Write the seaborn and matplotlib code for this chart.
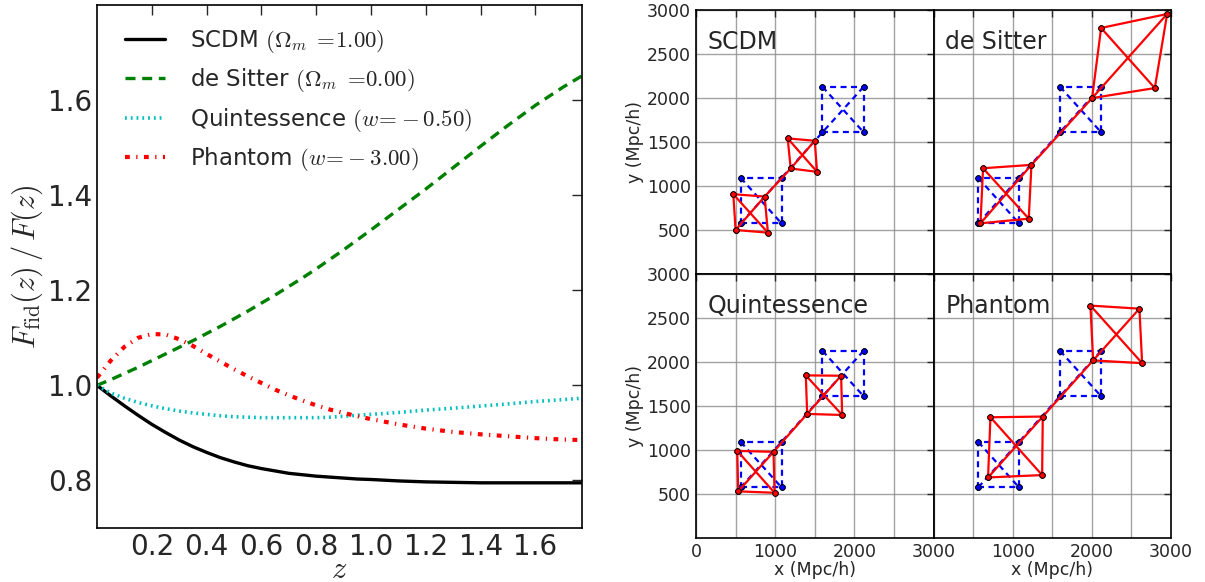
import matplotlib
matplotlib.use("Agg")
import matplotlib.pyplot as plt
from matplotlib.ticker import MultipleLocator
import numpy as np
import seaborn as sns

# ---- left panel: F_fid(z)/F(z) ----
z = [0.0, 0.05, 0.1, 0.15, 0.2, 0.25, 0.3, 0.35, 0.4, 0.45, 0.5, 0.55, 0.6, 0.65,
     0.7, 0.75, 0.8, 0.85, 0.9, 0.95, 1.0, 1.1, 1.2, 1.3, 1.4, 1.5, 1.6, 1.7, 1.77]
scdm = [1.000, 0.978, 0.957, 0.937, 0.918, 0.901, 0.885, 0.871, 0.859, 0.848,
        0.839, 0.831, 0.825, 0.820, 0.815, 0.812, 0.809, 0.807, 0.805, 0.803,
        0.802, 0.799, 0.797, 0.796, 0.795, 0.795, 0.795, 0.795, 0.795]
desitter = [1.000, 1.012, 1.025, 1.038, 1.052, 1.066, 1.080, 1.094, 1.109, 1.124,
            1.140, 1.156, 1.173, 1.190, 1.208, 1.226, 1.245, 1.265, 1.285, 1.306,
            1.327, 1.370, 1.413, 1.458, 1.503, 1.547, 1.589, 1.627, 1.651]
quint = [1.000, 0.984, 0.973, 0.964, 0.957, 0.951, 0.946, 0.942, 0.939, 0.936,
         0.934, 0.933, 0.932, 0.932, 0.932, 0.932, 0.932, 0.933, 0.935, 0.937,
         0.939, 0.943, 0.948, 0.952, 0.9565, 0.961, 0.966, 0.970, 0.973]
phantom = [1.016, 1.052, 1.081, 1.100, 1.108, 1.107, 1.097, 1.083, 1.066, 1.050,
           1.034, 1.019, 1.005, 0.991, 0.979, 0.968, 0.958, 0.949, 0.942, 0.935,
           0.929, 0.918, 0.909, 0.902, 0.897, 0.893, 0.889, 0.886, 0.885]

model_labels = [
    r"SCDM $(\Omega_m\;=\!1.00)$",
    r"de Sitter $(\Omega_m\;=\!0.00)$",
    r"Quintessence $(w\!=\!-0.50)$",
    r"Phantom $(w\!=\!-3.00)$",
]

# ---- right panels: corners (BL, BR, TR, TL) of two comoving squares, Mpc/h ----
fid_x = [565, 1080, 1080, 565, 1597, 2118, 2118, 1597]
fid_y = [575, 575, 1092, 1092, 1610, 1610, 2128, 2128]

panel_names = ["SCDM", "de Sitter", "Quintessence", "Phantom"]
scdm_x = [500, 908, 867, 471, 1196, 1529, 1500, 1158]
scdm_y = [500, 470, 880, 907, 1199, 1161, 1514, 1541]
desitter_x = [593, 1203, 1237, 626, 2003, 2795, 2951, 2117]
desitter_y = [576, 629, 1240, 1202, 1999, 2113, 2955, 2796]
quint_x = [533, 992, 979, 521, 1404, 1846, 1833, 1387]
quint_y = [530, 514, 979, 990, 1410, 1398, 1844, 1848]
phantom_x = [689, 1372, 1380, 719, 2016, 2635, 2601, 1982]
phantom_y = [688, 715, 1380, 1372, 2018, 1987, 2606, 2641]

# index paths: square outline, one diagonal, and the line-of-sight chain
paths = [[0, 1, 2, 3, 0], [3, 1], [4, 5, 6, 7, 4], [7, 5], [0, 2, 4, 6]]


def draw_shapes(ax, xs, ys, color, ls, lw):
    xs = np.asarray(xs)
    ys = np.asarray(ys)
    for p in paths:
        sns.lineplot(x=xs[p], y=ys[p], sort=False, estimator=None, ax=ax,
                     color=color, linestyle=ls, lw=lw, marker="o", ms=4,
                     mec="k", mew=0.6)


plt.rcParams.update({
    "xtick.direction": "in",
    "ytick.direction": "in",
    "xtick.top": True,
    "ytick.right": True,
    "mathtext.fontset": "cm",
})
sns.set_style("white", {"xtick.direction": "in", "ytick.direction": "in",
                        "axes.edgecolor": "black"})
plt.rcParams["font.family"] = ["DejaVu Sans"]

fig = plt.figure(figsize=(12.05, 5.82), dpi=100)

# left panel
ax = fig.add_axes([0.0805, 0.0928, 0.4025, 0.8986])
styles = [
    ("black", "-", 2.4),
    ("green", (0, (3, 2)), 2.4),
    ("c", (0, (0.5, 1.1)), 2.6),
    ("red", (0, (1.15, 1.55, 0.3, 1.55)), 3.0),
]
for vals, lab, (col, ls, lw) in zip([scdm, desitter, quint, phantom], model_labels, styles):
    sns.lineplot(x=z, y=vals, ax=ax, color=col, linestyle=ls, lw=lw, label=lab)
ax.set_xlim(0, 1.77)
ax.set_ylim(0.7, 1.8)
ax.set_xticks([0.2, 0.4, 0.6, 0.8, 1.0, 1.2, 1.4, 1.6])
ax.set_yticks([0.8, 1.0, 1.2, 1.4, 1.6])
ax.tick_params(labelsize=20, length=7, width=1, top=True, right=True, direction="in")
ax.set_xlabel(r"$z$", fontsize=22, labelpad=-4)
ax.set_ylabel(r"$F_{\rm fid}(z)\,/\,F(z)$", fontsize=22, labelpad=2)
ax.legend(loc="upper left", bbox_to_anchor=(0, 1.0096), frameon=False,
          fontsize=16.5, handlelength=1.75, handletextpad=1.1,
          labelspacing=0.5, borderaxespad=0.82)
for s in ax.spines.values():
    s.set_linewidth(1.2)

# right 2x2 panels
left, right, top, bottom = 0.5776, 0.9718, 0.9828, 0.0756
w = (right - left) / 2
h = (top - bottom) / 2
model_xy = [(scdm_x, scdm_y), (desitter_x, desitter_y), (quint_x, quint_y), (phantom_x, phantom_y)]
for i, (name, (mx, my)) in enumerate(zip(panel_names, model_xy)):
    r, c = divmod(i, 2)
    pax = fig.add_axes([left + c * w, bottom + (1 - r) * h, w, h])
    pax.set_xlim(0, 3000)
    pax.set_ylim(0, 3000)
    pax.xaxis.set_major_locator(MultipleLocator(1000))
    pax.xaxis.set_minor_locator(MultipleLocator(500))
    pax.set_yticks(np.arange(500, 3001, 500))
    pax.grid(True, which="both", color="0.55", lw=1.0, alpha=0.8)
    pax.set_axisbelow(True)
    pax.tick_params(which="both", direction="in", top=True, right=True,
                    length=5, width=1, labelsize=12.5)
    draw_shapes(pax, fid_x, fid_y, "blue", (0, (2.7, 2)), 1.6)
    draw_shapes(pax, mx, my, "red", "-", 1.6)
    pax.text(0.05, 0.88, name, transform=pax.transAxes, fontsize=17,
             ha="left", va="center")
    if r == 0:
        pax.tick_params(labelbottom=False)
    else:
        pax.set_xlabel("x (Mpc/h)", fontsize=12.5, labelpad=0)
        if c == 1:
            pax.set_xticks([1000, 2000, 3000])
    if c == 1:
        pax.tick_params(labelleft=False)
    else:
        pax.set_ylabel("y (Mpc/h)", fontsize=12.5, labelpad=2)
    for s in pax.spines.values():
        s.set_linewidth(1.2)

fig.savefig("out.png", dpi=100)
